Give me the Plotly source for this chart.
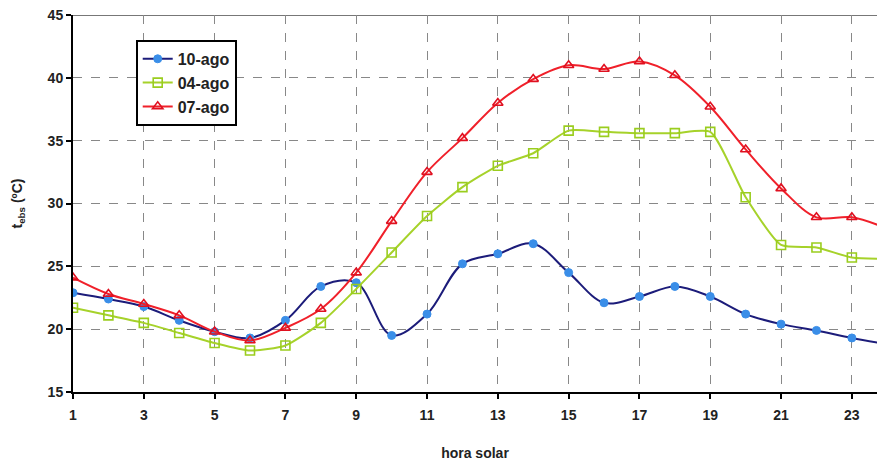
import plotly.graph_objects as go

hours = list(range(1, 25))
ago10 = [22.9, 22.4, 21.8, 20.7, 19.8, 19.3, 20.7, 23.4, 23.7, 19.5, 21.2, 25.2, 26.0, 26.8,
         24.5, 22.1, 22.6, 23.4, 22.6, 21.2, 20.4, 19.9, 19.3, 18.8]
ago04 = [21.7, 21.1, 20.5, 19.7, 18.9, 18.3, 18.7, 20.5, 23.2, 26.1, 29.0, 31.3, 33.0, 34.0,
         35.8, 35.7, 35.6, 35.6, 35.7, 30.5, 26.7, 26.5, 25.7, 25.6]
ago07 = [24.1, 22.8, 22.0, 21.1, 19.8, 19.1, 20.1, 21.6, 24.5, 28.6, 32.5, 35.2, 38.0, 39.9,
         41.0, 40.7, 41.3, 40.2, 37.7, 34.3, 31.2, 28.9, 28.9, 28.0]
names = ["10-ago", "04-ago", "07-ago"]
x_ticks = [1, 3, 5, 7, 9, 11, 13, 15, 17, 19, 21, 23]
y_ticks = [15, 20, 25, 30, 35, 40, 45]

font = "Liberation Sans, Arial, sans-serif"

fig = go.Figure()
fig.add_trace(go.Scatter(
    x=hours, y=ago10, name=names[0], mode="lines+markers",
    line=dict(color="#1c1c7a", width=2, shape="spline", smoothing=1),
    marker=dict(symbol="circle", size=8, color="#3a8ee8", line=dict(color="#3a8ee8", width=1)),
))
fig.add_trace(go.Scatter(
    x=hours, y=ago04, name=names[1], mode="lines+markers",
    line=dict(color="#a6d22a", width=2, shape="spline", smoothing=0.6),
    marker=dict(symbol="square-open", size=9, color="#9acd1e", line=dict(width=1.6)),
))
fig.add_trace(go.Scatter(
    x=hours, y=ago07, name=names[2], mode="lines+markers",
    line=dict(color="#f0202a", width=2, shape="spline", smoothing=1),
    marker=dict(symbol="triangle-up-open", size=9, color="#e01020", line=dict(width=1.6)),
))

fig.add_shape(type="line", xref="paper", yref="y", x0=0, x1=1, y0=45, y1=45,
              line=dict(color="#777777", width=2), layer="below")

fig.update_layout(
    width=877, height=464,
    margin=dict(l=73, r=0, t=15, b=72),
    paper_bgcolor="white", plot_bgcolor="white",
    font=dict(family=font, size=14, color="#222222"),
    showlegend=True,
    legend=dict(
        x=0.078, y=0.934, xanchor="left", yanchor="top",
        bordercolor="black", borderwidth=2, bgcolor="white",
        font=dict(family=font, size=16, color="#222222", weight="bold"),
        tracegroupgap=0, itemwidth=30,
    ),
    xaxis=dict(
        range=[1, 23.71], tickvals=x_ticks, ticktext=[str(v) for v in x_ticks],
        showgrid=True, gridcolor="#888888", griddash="dash", gridwidth=1,
        showline=True, linecolor="black", linewidth=2,
        ticks="outside", ticklen=5, tickcolor="black", tickwidth=2,
        ticklabelstandoff=4,
        tickfont=dict(family=font, size=14, color="#222222", weight="bold"),
        title=dict(text="<b>hora solar</b>", font=dict(family=font, size=14, color="#222222"), standoff=26),
        zeroline=False, automargin=False,
    ),
    yaxis=dict(
        range=[15, 45], tickvals=y_ticks, ticktext=[str(v) for v in y_ticks],
        showgrid=True, gridcolor="#888888", griddash="dash", gridwidth=1,
        showline=True, linecolor="black", linewidth=2,
        ticks="outside", ticklen=5, tickcolor="black", tickwidth=2,
        tickfont=dict(family=font, size=14, color="#222222", weight="bold"),
        title=dict(text="<b>t<sub>ebs</sub> (ºC)</b>", font=dict(family=font, size=14, color="#222222"), standoff=22),
        zeroline=False, automargin=False,
    ),
)

fig.write_html("out.html", config={"displayModeBar": False},
               post_script="document.body.style.margin='0px';document.body.style.overflow='hidden';")
